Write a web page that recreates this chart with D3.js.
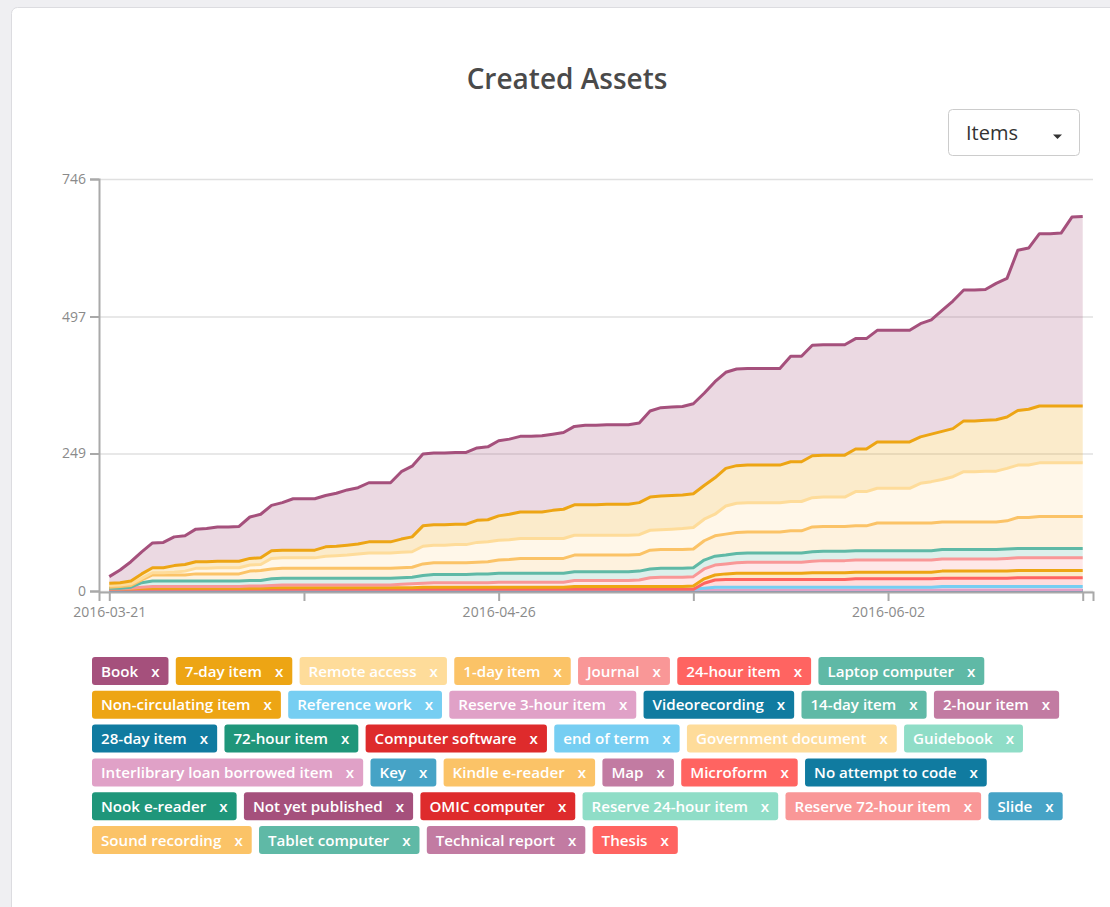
<!DOCTYPE html>
<html>
<head>
<meta charset="utf-8">
<script src="https://cdn.jsdelivr.net/npm/d3@7"></script>
<style>
  html, body { margin: 0; padding: 0; background: #efeff2; }
  svg { display: block; font-family: "Open Sans", "Noto Sans", sans-serif; }
</style>
</head>
<body>
<svg id="chart" width="1110" height="907"></svg>
<script>
// ---- categories: one point per day the catalogue was open ----
const firstDay = "2016-03-21";
const lastDay = "2016-06-20";
const closedDays = ["2016-05-30"];

// ---- axis ticks ----
const xTickDates = ["2016-03-21", "2016-04-08", "2016-04-26", "2016-05-14", "2016-06-02", "2016-06-20"];
const xLabelDates = ["2016-03-21", "2016-04-26", "2016-06-02"];
const yTickValues = [0, 249, 497, 746];

// ---- legend (all item types) ----
const itemTypes = [
  "Book", "7-day item", "Remote access", "1-day item", "Journal", "24-hour item", "Laptop computer",
  "Non-circulating item", "Reference work", "Reserve 3-hour item", "Videorecording", "14-day item", "2-hour item",
  "28-day item", "72-hour item", "Computer software", "end of term", "Government document", "Guidebook",
  "Interlibrary loan borrowed item", "Key", "Kindle e-reader", "Map", "Microform", "No attempt to code",
  "Nook e-reader", "Not yet published", "OMIC computer", "Reserve 24-hour item", "Reserve 72-hour item", "Slide",
  "Sound recording", "Tablet computer", "Technical report", "Thesis"
];

// ---- cumulative created assets per item type ----
const book = [
  12,23,35,40,45,46,52,52,59,60,
  62,62,63,75,79,82,86,93,93,93,
  93,96,100,102,107,107,107,122,128,130,
  130,130,130,130,131,132,136,136,137,137,
  138,138,139,142,144,144,144,144,144,144,
  156,160,160,160,163,167,174,174,175,175,
  175,175,175,191,191,200,200,200,200,200,
  200,202,202,202,202,205,207,219,231,237,
  237,237,247,251,290,292,312,312,313,342,
  343];
const sevenDay = [
  4,4,5,8,9,9,12,12,12,12,
  12,12,12,12,12,14,14,14,14,14,
  17,17,18,18,20,20,20,24,27,37,
  37,37,37,37,40,40,44,46,48,48,
  48,51,53,55,55,55,56,56,56,58,
  60,61,61,61,61,61,66,68,68,68,
  68,68,68,72,72,76,76,76,76,77,
  77,84,84,84,84,84,86,87,87,92,
  92,92,93,93,99,101,103,103,103,103,
  103];
const remoteAccess = [
  3,3,3,3,4,4,5,7,10,10,
  11,11,11,11,11,19,19,19,19,19,
  22,23,24,26,28,28,28,28,28,32,
  32,32,33,33,36,36,36,36,36,36,
  36,36,36,36,36,36,36,36,36,36,
  36,36,37,38,39,39,39,51,53,53,
  53,53,53,53,53,53,53,53,53,62,
  62,63,63,63,63,72,75,77,82,91,
  91,92,92,95,95,95,97,97,97,97,
  97];
const oneDay = [
  2,3,3,5,11,11,11,11,13,13,
  13,13,13,17,18,18,18,18,18,18,
  18,18,18,18,18,18,18,18,18,21,
  21,21,21,21,21,22,24,25,27,27,
  27,27,27,30,30,30,30,30,30,30,
  34,34,34,34,34,35,37,38,38,38,
  38,38,38,40,40,45,45,45,45,45,
  45,50,50,50,50,50,50,50,50,50,
  50,50,50,51,56,56,58,58,58,58,
  58];
const laptop = [
  1,1,2,8,10,10,10,10,10,10,
  10,10,10,10,10,12,12,12,12,12,
  12,12,12,12,12,12,12,12,12,14,
  15,15,15,15,16,16,16,16,16,16,
  16,16,16,16,16,16,16,16,16,16,
  16,16,16,16,16,16,16,16,17,17,
  17,17,17,17,17,17,17,17,17,17,
  17,17,17,17,17,17,17,17,17,17,
  17,17,17,17,17,17,17,17,17,17,
  17];
const journal = [
  0,0,1,2,3,3,3,3,3,3,
  3,3,3,4,4,4,5,5,5,5,
  5,5,5,5,5,5,5,6,7,7,
  8,8,8,8,8,8,9,9,9,9,
  9,9,9,11,11,11,11,11,11,12,
  16,17,17,17,17,18,18,18,19,20,
  20,20,20,20,20,21,22,22,22,22,
  22,22,22,22,22,22,22,22,22,22,
  22,22,22,23,23,23,23,23,23,23,
  23];
const nonCirculating = [
  1,1,1,2,2,2,2,2,2,2,
  2,2,2,2,2,3,3,3,3,3,
  3,3,3,3,3,3,3,3,3,4,
  4,4,4,4,4,4,4,4,4,4,
  4,4,4,5,5,5,5,5,5,5,
  5,5,5,5,6,8,9,10,11,11,
  11,11,11,11,11,12,12,12,12,12,
  12,12,12,12,12,12,12,13,13,13,
  13,13,13,13,13,13,13,13,13,13,
  13];
const hour24 = [
  0,0,0,0,0,0,0,0,0,0,
  0,0,0,0,0,0,0,0,0,0,
  0,0,0,0,0,0,0,0,0,0,
  0,0,0,0,0,0,0,0,0,0,
  0,0,0,0,0,0,0,0,0,0,
  0,0,0,0,0,9,13,14,14,14,
  14,14,14,14,14,14,14,14,14,15,
  15,15,15,15,15,15,15,15,15,15,
  15,15,15,15,16,16,16,16,16,16,
  16];
const referenceWork = [
  1,1,1,1,1,1,1,1,1,1,
  1,1,1,1,1,1,1,1,1,1,
  1,1,1,1,1,1,1,1,1,1,
  1,1,1,1,1,1,1,1,1,1,
  1,1,1,1,1,1,1,1,1,1,
  1,1,1,1,1,3,5,5,5,5,
  5,5,5,5,5,5,5,5,5,5,
  5,5,5,5,5,5,5,6,6,6,
  6,6,6,6,6,6,6,6,6,6,
  6];
const reserve3h = [
  1,1,1,1,1,1,1,1,1,1,
  1,1,1,1,1,1,1,1,1,1,
  1,1,1,1,1,1,1,1,1,1,
  1,1,1,1,1,1,1,1,1,1,
  1,1,1,1,1,1,1,1,1,1,
  1,1,1,1,1,1,1,1,1,1,
  1,1,1,1,1,1,1,1,1,1,
  1,1,1,1,1,1,1,1,1,1,
  1,1,1,1,1,1,1,1,1,1,
  1];
const videorecording = [
  1,1,1,1,1,1,1,1,1,1,
  1,1,1,1,1,1,1,1,1,1,
  1,1,1,1,1,1,1,1,1,1,
  1,1,1,1,1,1,1,1,1,1,
  1,1,1,1,1,1,1,1,1,1,
  1,1,1,1,1,1,1,1,1,1,
  1,1,1,1,1,1,1,1,1,1,
  1,1,1,1,1,1,1,1,1,1,
  1,1,1,1,1,1,1,1,1,1,
  1];

// Series that carry counts in this window, stacked bottom to top
const plotted = [
  ["Videorecording", videorecording],
  ["Reserve 3-hour item", reserve3h],
  ["Reference work", referenceWork],
  ["24-hour item", hour24],
  ["Non-circulating item", nonCirculating],
  ["Journal", journal],
  ["Laptop computer", laptop],
  ["1-day item", oneDay],
  ["Remote access", remoteAccess],
  ["7-day item", sevenDay],
  ["Book", book]
];

// ---- colours per item type ----
const typeColor = {
  "Book": "#a5507c", "7-day item": "#eda514", "Remote access": "#fedc9a", "1-day item": "#fbc367",
  "Journal": "#f99797", "24-hour item": "#ff6461", "Laptop computer": "#5fb9a6",
  "Non-circulating item": "#eda514", "Reference work": "#76cef2", "Reserve 3-hour item": "#e0a1c7",
  "Videorecording": "#107ba0", "14-day item": "#5fb9a6", "2-hour item": "#c27ba2", "28-day item": "#107ba0",
  "72-hour item": "#1f967a", "Computer software": "#de2b2c", "end of term": "#76cef2",
  "Government document": "#fedc9a", "Guidebook": "#8fddc7", "Interlibrary loan borrowed item": "#e0a1c7",
  "Key": "#46a3c6", "Kindle e-reader": "#fbc367", "Map": "#c27ba2", "Microform": "#ff6461",
  "No attempt to code": "#107ba0", "Nook e-reader": "#1f967a", "Not yet published": "#a5507c",
  "OMIC computer": "#de2b2c", "Reserve 24-hour item": "#8fddc7", "Reserve 72-hour item": "#f99797",
  "Slide": "#46a3c6", "Sound recording": "#fbc367", "Tablet computer": "#5fb9a6",
  "Technical report": "#c27ba2", "Thesis": "#ff6461"
};

// ---- build the date categories ----
const parseDay = d3.utcParse("%Y-%m-%d");
const fmtDay = d3.utcFormat("%Y-%m-%d");
const dates = d3.utcDay.range(parseDay(firstDay), d3.utcDay.offset(parseDay(lastDay), 1))
  .map(fmtDay)
  .filter(d => !closedDays.includes(d));

plotted.forEach(([name, vals]) => {
  if (vals.length !== dates.length) throw new Error(name + " has " + vals.length + " values, expected " + dates.length);
});

const table = dates.map((d, i) => {
  const row = { date: d };
  plotted.forEach(([name, vals]) => { row[name] = vals[i]; });
  return row;
});
const keys = plotted.map(p => p[0]);
const layers = d3.stack().keys(keys)(table);

// ---- page frame ----
const svg = d3.select("#chart");
svg.append("rect").attr("x", 0).attr("y", 0).attr("width", 1110).attr("height", 907).attr("fill", "#efeff2");
svg.append("rect")
  .attr("x", 11.5).attr("y", 7.5).attr("width", 1130).attr("height", 930).attr("rx", 6)
  .attr("fill", "#ffffff").attr("stroke", "#dcdce0");

svg.append("text")
  .attr("x", 567).attr("y", 89)
  .attr("text-anchor", "middle")
  .attr("font-size", 28).attr("font-weight", 600).attr("fill", "#4a4a4a")
  .text("Created Assets");

// dropdown selector
const dd = svg.append("g");
dd.append("rect").attr("x", 948.5).attr("y", 109.5).attr("width", 131).attr("height", 46).attr("rx", 4)
  .attr("fill", "#fff").attr("stroke", "#cccccc");
dd.append("text").attr("x", 966).attr("y", 139.5).attr("font-size", 20).attr("fill", "#333").text("Items");
dd.append("path").attr("d", "M1053,134.5 L1062,134.5 L1057.5,139 Z").attr("fill", "#333");

// ---- scales ----
const x = d3.scalePoint().domain(dates).range([99, 1093]).padding(0.95);
const y = d3.scaleLinear().domain([0, yTickValues[yTickValues.length - 1]]).range([591, 179]);

// gridlines
svg.append("g").selectAll("line").data(yTickValues).join("line")
  .attr("x1", 99).attr("x2", 1093)
  .attr("y1", d => y(d) + 0.5).attr("y2", d => y(d) + 0.5)
  .attr("stroke", "#e0e0e0").attr("stroke-width", 1.5);

// areas and lines
const area = d3.area().x(d => x(d.data.date)).y0(d => y(d[0])).y1(d => y(d[1]));
const line = d3.line().x(d => x(d.data.date)).y(d => y(d[1]));

svg.append("g").selectAll("path").data(layers).join("path")
  .attr("d", area)
  .attr("fill", d => typeColor[d.key])
  .attr("fill-opacity", 0.22);

svg.append("g").selectAll("path").data(layers).join("path")
  .attr("d", line)
  .attr("fill", "none")
  .attr("stroke", d => typeColor[d.key])
  .attr("stroke-width", 3)
  .attr("stroke-linejoin", "round");

// ---- axes ----
function styleAxis(g) {
  g.selectAll(".domain, .tick line").attr("stroke", "#a9a9a9").attr("stroke-width", 2);
  g.selectAll(".tick text").attr("fill", "#8a8a8a").attr("font-size", 14)
    .attr("font-family", '"Open Sans", "Noto Sans", sans-serif');
}

const xAxis = d3.axisBottom(x)
  .tickValues(xTickDates)
  .tickSize(9).tickSizeOuter(9)
  .tickFormat(d => xLabelDates.includes(d) ? d : "");
svg.append("g").attr("transform", "translate(0,592)").call(xAxis).call(styleAxis)
  .call(g => g.selectAll(".tick text").attr("dy", "0.95em"));

const yAxis = d3.axisLeft(y).tickValues(yTickValues).tickSize(9).tickSizeOuter(9).tickPadding(4);
svg.append("g").attr("transform", "translate(99,0)").call(yAxis).call(styleAxis);

// ---- legend tags ----
const legend = svg.append("g");
const tagH = 28, rowPitch = 33.8, padL = 9, gapX = 13, padR = 9, tagGap = 7.3;
const left = 92, right = 1095, top0 = 657;
let cx = left, row = 0;
itemTypes.forEach(name => {
  const g = legend.append("g");
  const label = g.append("text").attr("font-size", 15.15).attr("font-weight", 600).attr("fill", "#fff").text(name);
  const cross = g.append("text").attr("font-size", 15.15).attr("font-weight", 600).attr("fill", "#fff").text("x");
  const tw = label.node().getComputedTextLength();
  const xw = cross.node().getComputedTextLength();
  const w = padL + tw + gapX + xw + padR;
  if (cx + w > right && cx > left) { row += 1; cx = left; }
  const ty = top0 + row * rowPitch;
  g.insert("rect", "text").attr("x", cx).attr("y", ty).attr("width", w).attr("height", tagH).attr("rx", 3)
    .attr("fill", typeColor[name]);
  label.attr("x", cx + padL).attr("y", ty + 19.5);
  cross.attr("x", cx + padL + tw + gapX).attr("y", ty + 19.5);
  cx += w + tagGap;
});
</script>
</body>
</html>
